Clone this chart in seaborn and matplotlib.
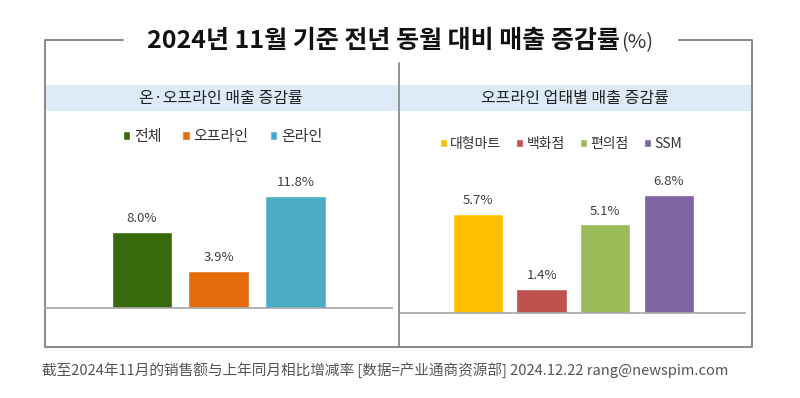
import matplotlib
matplotlib.use("Agg")
import matplotlib.pyplot as plt
from matplotlib.patches import Rectangle
import seaborn as sns
import pandas as pd

# 데이터
left_cats = ["전체", "오프라인", "온라인"]
left_vals = [8.0, 3.9, 11.8]
left_colors = ["#376a08", "#e46c0a", "#4bacc6"]

right_cats = ["대형마트", "백화점", "편의점", "SSM"]
right_vals = [5.7, 1.4, 5.1, 6.8]
right_colors = ["#ffc000", "#c0504d", "#9bbb59", "#8064a2"]

title = "2024년 11월 기준 전년 동월 대비 매출 증감률"
left_header = "온·오프라인 매출 증감률"
right_header = "오프라인 업태별 매출 증감률"
caption = "截至2024年11月的销售额与上年同月相比增减率 [数据=产业通商资源部] 2024.12.22 rang@newspim.com"

sns.set_style("white")
plt.rcParams["font.family"] = ["Noto Sans CJK KR", "DejaVu Sans"]

W, H = 800, 398
fig = plt.figure(figsize=(W / 100, H / 100), dpi=100)

# 배경 (픽셀 좌표)
bg = fig.add_axes([0, 0, 1, 1])
bg.set_xlim(0, W)
bg.set_ylim(H, 0)
bg.axis("off")
line_c = "#7f7f7f"
bg.plot([123, 45, 45, 752, 752, 679], [40, 40, 347, 347, 40, 40], color=line_c, lw=1.3)
bg.plot([398.5, 398.5], [63, 347], color=line_c, lw=1.2)
bg.add_patch(Rectangle((46, 85), 352, 26, color="#dcebf7", lw=0))
bg.add_patch(Rectangle((399.5, 85), 351, 26, color="#dcebf7", lw=0))
bg.text(221, 98, left_header, ha="center", va="center", fontsize=11.5, color="#222222", fontweight="medium")
bg.text(575, 98, right_header, ha="center", va="center", fontsize=11.5, color="#222222", fontweight="medium")
t = bg.text(147, 41, title, ha="left", va="center", fontsize=18, fontweight="bold", color="#111111")
fig.canvas.draw()
bb = t.get_window_extent()
bg.text(bb.x1 + 1, 43, "(%)", ha="left", va="center", fontsize=14.5, color="#333333")
bg.text(42, 370, caption, ha="left", va="center", fontsize=10.55, color="#555555",
        family=["Noto Sans CJK SC", "DejaVu Sans"])


def panel(rect, cats, vals, colors, xlim, ylim, leg_xy, fs, colsp):
    ax = fig.add_axes(rect)
    ax.patch.set_alpha(0)
    df = pd.DataFrame({"cat": cats, "val": vals})
    sns.barplot(data=df, x="cat", y="val", hue="cat", palette=colors,
                width=0.79, saturation=1, legend=True, ax=ax)
    ax.set_xlim(*xlim)
    ax.set_ylim(*ylim)
    for c in ax.containers:
        ax.bar_label(c, fmt="%.1f%%", padding=5, fontsize=9.5, color="#404040")
    ax.set_xlabel("")
    ax.set_ylabel("")
    ax.set_xticks([])
    ax.set_yticks([])
    for s in ["left", "right", "top"]:
        ax.spines[s].set_visible(False)
    ax.spines["bottom"].set_color("#a6a6a6")
    ax.spines["bottom"].set_linewidth(1.2)
    sns.move_legend(ax, "center", bbox_to_anchor=leg_xy, ncol=len(cats), frameon=False,
                    title=None, fontsize=fs, handlelength=0.5, handleheight=0.5,
                    handletextpad=0.25, columnspacing=colsp)
    for txt in ax.get_legend().get_texts():
        txt.set_color("#333333")
    return ax


def frac(x0, x1, ytop, ybot):
    return [x0 / W, (H - ybot) / H, (x1 - x0) / W, (ybot - ytop) / H]


panel(frac(45, 392, 120, 308), left_cats, left_vals, left_colors,
      (-1.264, 3.257), (0, 19.81), (0.5115, 0.9096), 10.8, 1.4)
panel(frac(400, 745, 120, 313), right_cats, right_vals, right_colors,
      (-1.224, 4.193), (0, 11.12), (0.4667, 0.8756), 10, 1.1)

fig.savefig("out.png", dpi=100)
